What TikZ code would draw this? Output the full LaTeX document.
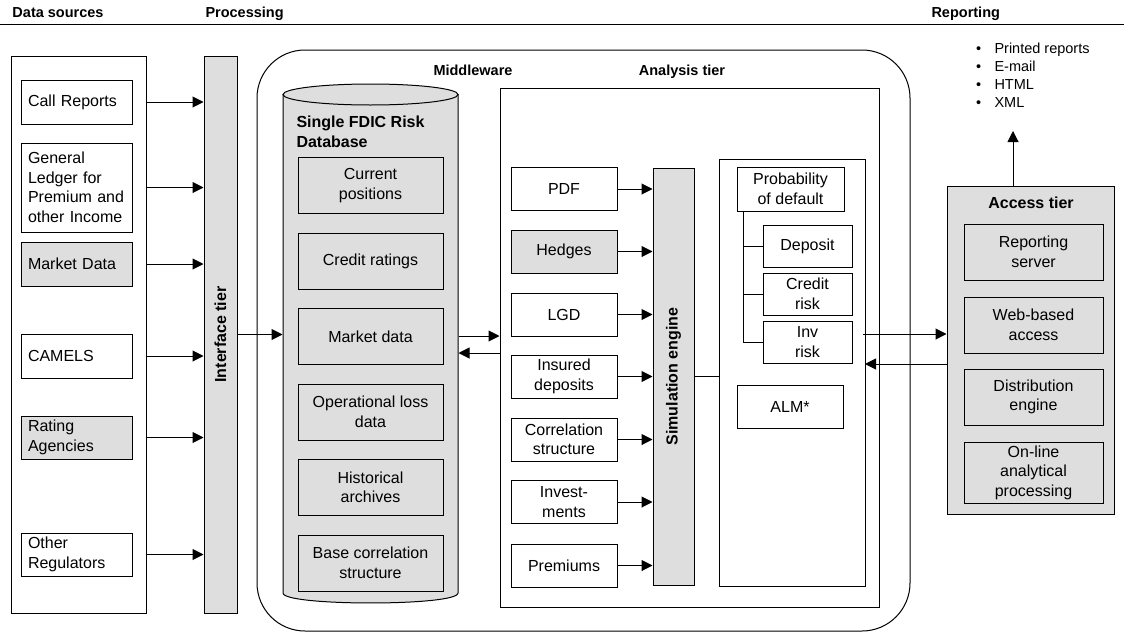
\documentclass[tikz,border=0pt]{standalone}
\usepackage{fontspec}
\setmainfont{Liberation Sans}
\usetikzlibrary{arrows.meta}
\definecolor{boxgray}{RGB}{222,222,222}
\begin{document}
\begin{tikzpicture}[x=1pt,y=-1pt,line width=1pt,
 bx/.style={draw, fill=white, inner sep=0pt, align=center, font=\fontsize{16}{19.5}\selectfont},
 gbx/.style={bx, fill=boxgray},
 lbx/.style={bx, align=left, inner xsep=7pt, text width=97pt},
 sz/.style 2 args={minimum width=#1pt, minimum height=#2pt},
 hdr/.style={font=\fontsize{14.5}{17}\selectfont\bfseries, inner sep=0pt},
 bhdr/.style={font=\fontsize{16}{20}\selectfont\bfseries, inner sep=0pt},
 arr/.style={-{Triangle[length=11pt,width=11pt]}},
]
\useasboundingbox (0,0) rectangle (1124,632);

% headers
\node[hdr, anchor=base west] (h1) at (12,17) {Data sources};
\node[hdr, anchor=base west] (h2) at (205,17) {Processing};
\node[hdr, anchor=base west] (h3) at (931,17) {Reporting};
\draw (0,24) -- (1124,24);

% data sources
\node[draw, sz={135}{557}, inner sep=0] (ds) at (78.5,334.5) {};
\node[lbx, sz={111}{44}] (cr) at (76.5,102) {Call Reports};
\node[lbx, sz={111}{89}] (gl) at (76.5,187.5) {General\\Ledger for\\Premium and\\other Income};
\node[lbx, sz={111}{44}, fill=boxgray] (md) at (76.5,264) {Market Data};
\node[lbx, sz={111}{44}] (cam) at (76.5,356) {CAMELS};
\node[lbx, sz={111}{43}, fill=boxgray] (ra) at (76.5,437.5) {Rating\\Agencies};
\node[lbx, sz={111}{43}] (oreg) at (76.5,554.5) {Other\\Regulators};

% interface tier
\node[draw, fill=boxgray, sz={33}{557}, inner sep=0] (it) at (220.5,334.5) {};
\node[bhdr, rotate=90] (itl) at (it.center) {Interface tier};

\foreach \n in {cr,gl,md,cam,ra,oreg}{
  \draw[arr] (ds.east |- \n.center) -- (it.west |- \n.center);
}

% middleware
\node[draw, rounded corners=48pt, sz={653}{581}, inner sep=0] (mw) at (583.5,340.5) {};
\node[hdr, anchor=base] (mwl) at (473,75) {Middleware};
\node[hdr, anchor=base] (anl) at (682,75) {Analysis tier};

% cylinder database
\draw[fill=boxgray] (283,94.5) -- (283,593) .. controls (283,606.3) and (458,606.3) .. (458,593) -- (458,94.5) -- cycle;
\draw[fill=boxgray] (370.5,94.5) ellipse [x radius=87.5, y radius=10.5];
\node[minimum width=175pt, minimum height=509pt, inner sep=0] (db) at (370.5,348.5) {};
\node[bhdr, anchor=west, align=left] (dbt) at (296,131.5) {Single FDIC Risk\\Database};
\node[gbx, sz={145}{56}] (cp) at (370.5,185.5) {Current\\positions};
\node[gbx, sz={145}{56}] (crt) at (370.5,261) {Credit ratings};
\node[gbx, sz={145}{56}] (mkd) at (370.5,336.5) {Market data};
\node[gbx, sz={145}{56}] (opl) at (370.5,412) {Operational loss\\data};
\node[gbx, sz={145}{56}] (hist) at (370.5,487.5) {Historical\\archives};
\node[gbx, sz={145}{56}] (base) at (370.5,563) {Base correlation\\structure};

\draw[arr] (it.east) -- (it.east -| db.west);

% analysis tier
\node[draw, sz={379}{519}, inner sep=0] (an) at (689.5,347.5) {};
\coordinate (lk1) at (459,336);
\coordinate (lk2) at (459,353);
\draw[arr] (db.east |- lk1) -- (an.west |- lk1);
\draw[arr] (an.west |- lk2) -- (db.east |- lk2);

\node[bx, sz={106}{43}] (pdf) at (564,189) {PDF};
\node[gbx, sz={106}{43}] (hed) at (564,251.5) {Hedges};
\node[bx, sz={106}{43}] (lgd) at (564,314.5) {LGD};
\node[bx, sz={106}{43}] (ins) at (564,376.5) {Insured\\deposits};
\node[bx, sz={106}{43}] (corr) at (564,439.5) {Correlation\\structure};
\node[bx, sz={106}{43}] (inv) at (564,502) {Invest-\\ments};
\node[bx, sz={106}{43}] (prem) at (564,565.5) {Premiums};

\node[draw, fill=boxgray, sz={41}{417}, inner sep=0] (sim) at (673.5,376.5) {};
\node[bhdr, rotate=90] (siml) at (sim.center) {Simulation engine};

\foreach \n in {pdf,hed,lgd,ins,corr,inv,prem}{
  \draw[arr] (\n.east) -- (sim.west |- \n.east);
}

% results box
\node[draw, sz={146}{427}, inner sep=0] (res) at (792,372.5) {};
\draw (sim.east |- ins.center) -- (res.west |- ins.center);

\node[bx, sz={107}{44}] (pd) at (790.5,189) {Probability\\of default};
\node[bx, sz={89}{42}] (dep) at (807.5,246) {Deposit};
\node[bx, sz={89}{42}] (crd) at (807.5,294) {Credit\\risk};
\node[bx, sz={89}{42}] (invr) at (807.5,342) {Inv\\risk};
\node[bx, sz={106}{43}] (alm) at (790,406.5) {ALM*};
\coordinate (tr) at (743,211);
\draw (tr) |- (invr.west);
\draw (tr |- dep.west) -- (dep.west);
\draw (tr |- crd.west) -- (crd.west);

% access tier
\node[draw, fill=boxgray, sz={167}{328}, inner sep=0] (acc) at (1030.5,350) {};
\node[bhdr, anchor=base] (accl) at (1031,208) {Access tier};
\node[gbx, sz={139}{56}] (rs) at (1033.5,252) {Reporting\\server};
\node[gbx, sz={139}{56}] (web) at (1033.5,325) {Web-based\\access};
\node[gbx, sz={139}{56}] (dist) at (1033.5,397) {Distribution\\engine};
\node[gbx, sz={139}{61}] (olap) at (1033.5,472.5) {On-line\\analytical\\processing};

\coordinate (a1) at (863,334);
\coordinate (a2) at (865,364);
\draw[arr] (a1) -- (acc.west |- a1);
\draw[arr] (acc.west |- a2) -- (a2);

\coordinate (up) at (1013,131);
\draw[arr] (acc.north -| up) -- (up);

\node[anchor=north west, align=left, inner sep=0, font=\fontsize{14.5}{18}\selectfont] (rep) at (975.5,42)
 {\makebox[18.5pt][l]{\textbullet}Printed reports\\\makebox[18.5pt][l]{\textbullet}E-mail\\\makebox[18.5pt][l]{\textbullet}HTML\\\makebox[18.5pt][l]{\textbullet}XML};
\end{tikzpicture}
\end{document}
